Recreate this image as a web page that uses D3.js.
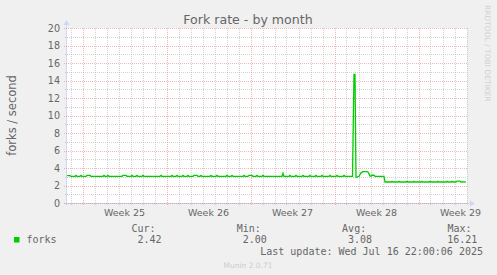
<!DOCTYPE html>
<html>
<head>
<meta charset="utf-8">
<script src="https://cdn.jsdelivr.net/npm/d3@7/dist/d3.min.js"></script>
<style>
  html, body { margin: 0; padding: 0; background: #f0f0f0; }
  svg { display: block; }
</style>
</head>
<body>
<div id="chart"></div>
<script>
// ── Data ──────────────────────────────────────────────────────────────────────
const timeStart = '2025-06-14T17:00:00Z';
const timeEnd = '2025-07-18T01:00:00Z';
const weekStarts = ['2025-06-16', '2025-06-23', '2025-06-30', '2025-07-07', '2025-07-14'];
const weekLabels = ['Week 25', 'Week 26', 'Week 27', 'Week 28', 'Week 29'];
const yTicks = [0, 2, 4, 6, 8, 10, 12, 14, 16, 18, 20];
const yMinorTicks = [1, 3, 5, 7, 9, 11, 13, 15, 17, 19];

// [hours since timeStart, forks per second]
const forksSamples = [
  [0, 3.12], [6, 3.12], [8, 3.05],
  [16, 3.05], [18, 3.15], [20, 3.05],
  [26, 3.05], [28, 3.15], [30, 3.05],
  [38, 3.05], [40, 3.15], [46, 3.15], [48, 3.05],
  [72, 3.05], [74, 3.15], [76, 3.05],
  [80, 3.05], [82, 3.15], [84, 3.05],
  [110, 3.05], [112, 3.15], [118, 3.15], [120, 3.05],
  [128, 3.05], [130, 3.15], [132, 3.05],
  [138, 3.05], [140, 3.15], [142, 3.05],
  [150, 3.05], [152, 3.15], [154, 3.05],
  [186, 3.05], [188, 3.15], [190, 3.05],
  [208, 3.05], [210, 3.15], [212, 3.05],
  [218, 3.05], [220, 3.15], [222, 3.05],
  [230, 3.05], [232, 3.15], [234, 3.05],
  [240, 3.05], [242, 3.15], [244, 3.05],
  [252, 3.05], [254, 3.15], [260, 3.15], [262, 3.05],
  [266, 3.05], [268, 3.15], [270, 3.05],
  [286, 3.05], [288, 3.15], [290, 3.05],
  [298, 3.05], [300, 3.15], [302, 3.05],
  [318, 3.05], [320, 3.15], [322, 3.05],
  [328, 3.05], [330, 3.15], [332, 3.05],
  [352, 3.05], [354, 3.15], [356, 3.05],
  [362, 3.05], [364, 3.15], [370, 3.15], [372, 3.05],
  [378, 3.05], [380, 3.15], [382, 3.05],
  [390, 3.05], [392, 3.15], [394, 3.05],
  [430, 3.05], [432, 3.4], [434, 3.05],
  [444, 3.05], [446, 3.15], [448, 3.05],
  [456, 3.05], [458, 3.15], [460, 3.05],
  [470, 3.05], [472, 3.15], [474, 3.05],
  [484, 3.05], [486, 3.15], [488, 3.05],
  [496, 3.05], [498, 3.15], [500, 3.05],
  [508, 3.05], [510, 3.15], [512, 3.05],
  [524, 3.05], [526, 3.15], [528, 3.05],
  [538, 3.05], [540, 3.15], [542, 3.05],
  [552, 3.05], [554, 3.15], [556, 3.05],
  [571, 3.05], [574, 14.7], [576, 14.7], [578, 2.95],
  [580, 2.95], [584, 3.05], [588, 3.45], [592, 3.58], [600, 3.58], [602, 3.55], [606, 3.1], [608, 3.05],
  [610, 3.17], [614, 3.17], [616, 3.05],
  [634, 3.05], [636, 2.4],
  [648, 2.4], [650, 2.48], [652, 2.4],
  [662, 2.4], [664, 2.48], [666, 2.4],
  [678, 2.4], [680, 2.48], [682, 2.4],
  [692, 2.4], [694, 2.48], [696, 2.4],
  [708, 2.4], [710, 2.48], [712, 2.4],
  [724, 2.4], [726, 2.48], [728, 2.4],
  [740, 2.4], [742, 2.48], [744, 2.4],
  [758, 2.4], [760, 2.48], [762, 2.4],
  [768, 2.4], [770, 2.48], [772, 2.4],
  [778, 2.4], [780, 2.5], [786, 2.5], [788, 2.4],
  [798, 2.42]
];

const legendHeaders = ['Cur:', 'Min:', 'Avg:', 'Max:'];
const legendValues = ['2.42', '2.00', '3.08', '16.21'];

// ── Setup ─────────────────────────────────────────────────────────────────────
const W = 497, H = 275;
const plot = { left: 67, right: 467, top: 28, bottom: 203 };
const SANS = '"DejaVu Sans", sans-serif';
const MONO = '"DejaVu Sans Mono", monospace';
const FONT_COLOR = '#666666';
const AXIS_COLOR = '#cfd6f8';
const LINE_COLOR = '#00cc00';

const svg = d3.select('#chart').append('svg')
  .attr('width', W).attr('height', H);

svg.append('rect').attr('width', W).attr('height', H).attr('fill', '#f0f0f0');

const t0 = new Date(timeStart);
const x = d3.scaleUtc()
  .domain([t0, new Date(timeEnd)])
  .range([plot.left, plot.right]);
const y = d3.scaleLinear()
  .domain([0, 20])
  .range([plot.bottom, plot.top]);

const hourDate = h => new Date(t0.getTime() + h * 3600e3);

// Canvas
svg.append('rect')
  .attr('x', plot.left).attr('y', plot.top)
  .attr('width', plot.right - plot.left).attr('height', plot.bottom - plot.top)
  .attr('fill', '#ffffff');

// Axes lines (drawn below the grid)
svg.append('line')
  .attr('x1', plot.left - 0.5).attr('x2', plot.left - 0.5)
  .attr('y1', plot.bottom + 3).attr('y2', plot.top - 5)
  .attr('stroke', AXIS_COLOR).attr('stroke-width', 1);
svg.append('path')
  .attr('d', `M${plot.left - 3.5},${plot.top - 3}L${plot.left - 0.5},${plot.top - 8}L${plot.left + 2.5},${plot.top - 3}Z`)
  .attr('fill', AXIS_COLOR);
svg.append('line')
  .attr('x1', plot.left - 3).attr('x2', plot.right + 4)
  .attr('y1', plot.bottom + 0.5).attr('y2', plot.bottom + 0.5)
  .attr('stroke', AXIS_COLOR).attr('stroke-width', 1);
svg.append('path')
  .attr('d', `M${plot.right + 3},${plot.bottom - 2.5}L${plot.right + 8},${plot.bottom + 0.5}L${plot.right + 3},${plot.bottom + 3.5}Z`)
  .attr('fill', AXIS_COLOR);

// ── Grid ──────────────────────────────────────────────────────────────────────
const gridG = svg.append('g').attr('class', 'grid');
const MINOR = 'rgba(150,150,150,0.42)';
const MAJOR = 'rgba(230,110,110,0.5)';

const mondays = weekStarts.map(d => +new Date(d + 'T00:00:00Z'));
const days = d3.utcDay.range(d3.utcDay.ceil(x.domain()[0]), x.domain()[1])
  .filter(d => !mondays.includes(+d));

gridG.selectAll('line.vminor')
  .data(days)
  .join('line')
  .attr('class', 'vminor')
  .attr('x1', d => Math.round(x(d)) + 0.5).attr('x2', d => Math.round(x(d)) + 0.5)
  .attr('y1', plot.top).attr('y2', plot.bottom + 2)
  .attr('stroke', MINOR).attr('stroke-dasharray', '1,1');

gridG.selectAll('line.hminor')
  .data(yMinorTicks)
  .join('line')
  .attr('class', 'hminor')
  .attr('x1', plot.left - 2).attr('x2', plot.right)
  .attr('y1', d => Math.round(y(d)) + 0.5).attr('y2', d => Math.round(y(d)) + 0.5)
  .attr('stroke', MINOR).attr('stroke-dasharray', '1,1');

gridG.selectAll('line.vmajor')
  .data(weekStarts)
  .join('line')
  .attr('class', 'vmajor')
  .attr('x1', d => Math.round(x(new Date(d + 'T00:00:00Z'))) + 0.5)
  .attr('x2', d => Math.round(x(new Date(d + 'T00:00:00Z'))) + 0.5)
  .attr('y1', plot.top).attr('y2', plot.bottom + 3)
  .attr('stroke', MAJOR).attr('stroke-dasharray', '1,1');

gridG.selectAll('line.hmajor')
  .data(yTicks)
  .join('line')
  .attr('class', 'hmajor')
  .attr('x1', plot.left - 3).attr('x2', plot.right)
  .attr('y1', d => Math.round(y(d)) + 0.5).attr('y2', d => Math.round(y(d)) + 0.5)
  .attr('stroke', MAJOR).attr('stroke-dasharray', '1,1');

// ── Tick labels ───────────────────────────────────────────────────────────────
svg.append('g').selectAll('text')
  .data(yTicks)
  .join('text')
  .attr('x', plot.left - 7)
  .attr('y', d => y(d) + 3.6)
  .attr('text-anchor', 'end')
  .attr('font-family', SANS).attr('font-size', '9.6px')
  .attr('fill', FONT_COLOR)
  .text(d => d);

svg.append('g').selectAll('text')
  .data(weekStarts)
  .join('text')
  .attr('x', d => x(d3.utcHour.offset(new Date(d + 'T00:00:00Z'), 84)))
  .attr('y', 215.5)
  .attr('text-anchor', 'middle')
  .attr('font-family', SANS).attr('font-size', '9.5px')
  .attr('fill', FONT_COLOR)
  .text((d, i) => weekLabels[i]);

// ── Series ────────────────────────────────────────────────────────────────────
const line = d3.line()
  .x(d => x(hourDate(d[0])))
  .y(d => y(d[1]));

svg.append('path')
  .datum(forksSamples)
  .attr('d', line)
  .attr('fill', 'none')
  .attr('stroke', LINE_COLOR)
  .attr('stroke-width', 1.3)
  .attr('stroke-linejoin', 'miter');

// ── Titles ────────────────────────────────────────────────────────────────────
svg.append('text')
  .attr('x', 248).attr('y', 24)
  .attr('text-anchor', 'middle')
  .attr('font-family', SANS).attr('font-size', '12.6px')
  .attr('fill', FONT_COLOR)
  .text('Fork rate - by month');

svg.append('text')
  .attr('transform', `translate(15.5,${(plot.top + plot.bottom) / 2}) rotate(-90)`)
  .attr('text-anchor', 'middle')
  .attr('font-family', SANS).attr('font-size', '11.5px')
  .attr('fill', FONT_COLOR)
  .text('forks / second');

svg.append('text')
  .attr('transform', 'translate(485,5) rotate(90)')
  .attr('font-family', SANS).attr('font-size', '7.5px')
  .attr('fill', '#d0d0d0')
  .text('RRDTOOL / TOBI OETIKER');

// ── Legend ────────────────────────────────────────────────────────────────────
const legendX = [131.5, 236.8, 342.1, 447.4];

svg.append('rect')
  .attr('x', 14).attr('y', 237).attr('width', 5.5).attr('height', 5.5)
  .attr('fill', LINE_COLOR);
svg.append('text')
  .attr('x', 26.5).attr('y', 243)
  .attr('font-family', MONO).attr('font-size', '10px')
  .attr('fill', FONT_COLOR)
  .text('forks');

svg.append('g').selectAll('text')
  .data(legendHeaders)
  .join('text')
  .attr('x', (d, i) => legendX[i]).attr('y', 231.5)
  .attr('font-family', MONO).attr('font-size', '10px')
  .attr('fill', FONT_COLOR)
  .text(d => d);

svg.append('g').selectAll('text')
  .data(legendValues)
  .join('text')
  .attr('x', (d, i) => legendX[i] + 30).attr('y', 243)
  .attr('text-anchor', 'end')
  .attr('font-family', MONO).attr('font-size', '10px')
  .attr('fill', FONT_COLOR)
  .text(d => d);

svg.append('text')
  .attr('x', 483).attr('y', 254.5)
  .attr('text-anchor', 'end')
  .attr('font-family', MONO).attr('font-size', '10px')
  .attr('fill', FONT_COLOR)
  .text('Last update: Wed Jul 16 22:00:06 2025');

svg.append('text')
  .attr('x', 248).attr('y', 267.5)
  .attr('text-anchor', 'middle')
  .attr('font-family', SANS).attr('font-size', '7.5px')
  .attr('fill', '#cccccc')
  .text('Munin 2.0.71');
</script>
</body>
</html>
